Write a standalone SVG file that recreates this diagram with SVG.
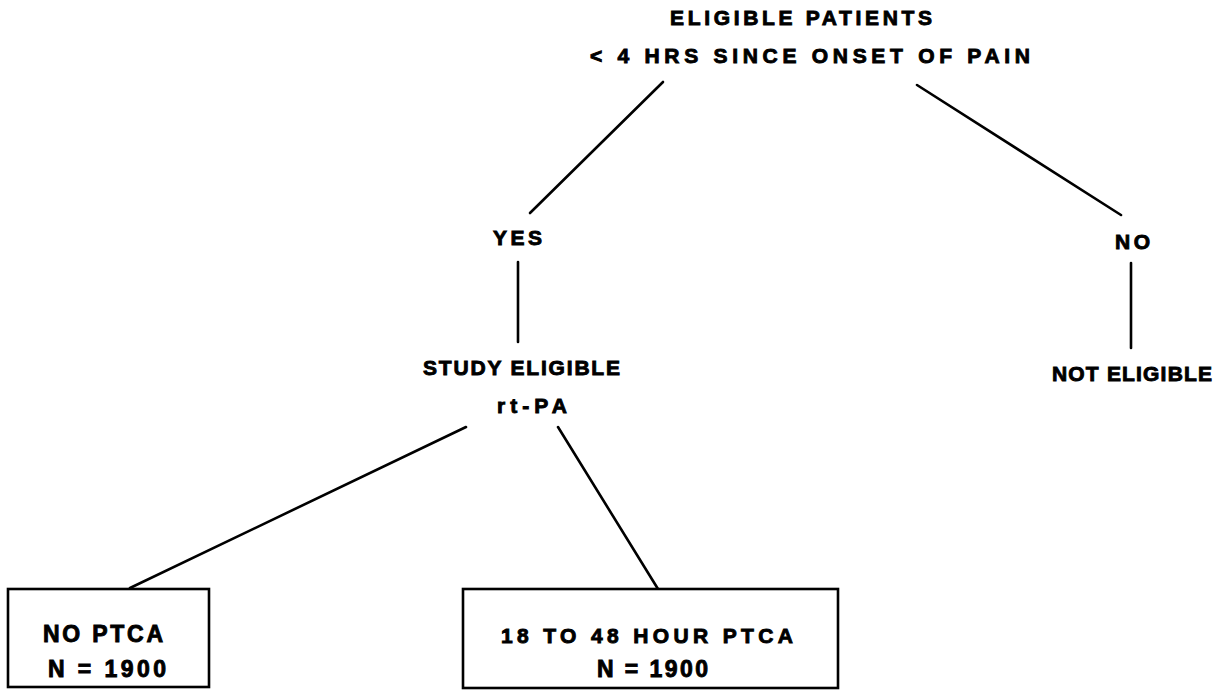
<svg xmlns="http://www.w3.org/2000/svg" width="1219" height="698" viewBox="0 0 1219 698">
<style>
text{font-family:"Liberation Sans",Arial,sans-serif;font-weight:bold;font-size:21px;fill:#000;stroke:#000;stroke-width:0.9}
.big{font-size:23px}
.c line{stroke:#000;stroke-width:2.6;stroke-linecap:round}
.box{fill:#fff;stroke:#000;stroke-width:2.6}
</style>
<rect width="1219" height="698" fill="#fff"/>
<g class="c" id="connectors">
<line x1="663" y1="82" x2="530" y2="213"/>
<line x1="917" y1="85" x2="1121" y2="215"/>
<line x1="518" y1="262" x2="518" y2="342"/>
<line x1="1131" y1="263" x2="1131" y2="348"/>
<line x1="466" y1="427" x2="130" y2="588"/>
<line x1="558" y1="427" x2="658" y2="589"/>
</g>
<g id="root">
<text x="670" y="25" textLength="262" lengthAdjust="spacing">ELIGIBLE PATIENTS</text>
<text x="590" y="63" textLength="440" lengthAdjust="spacing">&lt; 4 HRS SINCE ONSET OF PAIN</text>
</g>
<g id="yes"><text x="493" y="245" textLength="49" lengthAdjust="spacing">YES</text></g>
<g id="no"><text x="1115" y="249" textLength="35" lengthAdjust="spacing">NO</text></g>
<g id="study">
<text x="423" y="375" textLength="197" lengthAdjust="spacing">STUDY ELIGIBLE</text>
<text x="497" y="413" textLength="70" lengthAdjust="spacing">rt-PA</text>
</g>
<g id="noteligible"><text x="1052" y="381" textLength="160" lengthAdjust="spacing">NOT ELIGIBLE</text></g>
<g id="noptca">
<rect class="box" x="8" y="589" width="201" height="98"/>
<text class="big" x="43" y="642" textLength="120" lengthAdjust="spacing">NO PTCA</text>
<text class="big" x="48" y="677" textLength="118" lengthAdjust="spacing">N = 1900</text>
</g>
<g id="ptca">
<rect class="box" x="463" y="589" width="375" height="99"/>
<text x="501" y="643" textLength="292" lengthAdjust="spacing">18 TO 48 HOUR PTCA</text>
<text class="big" x="597" y="677" textLength="111" lengthAdjust="spacing">N = 1900</text>
</g>
</svg>
